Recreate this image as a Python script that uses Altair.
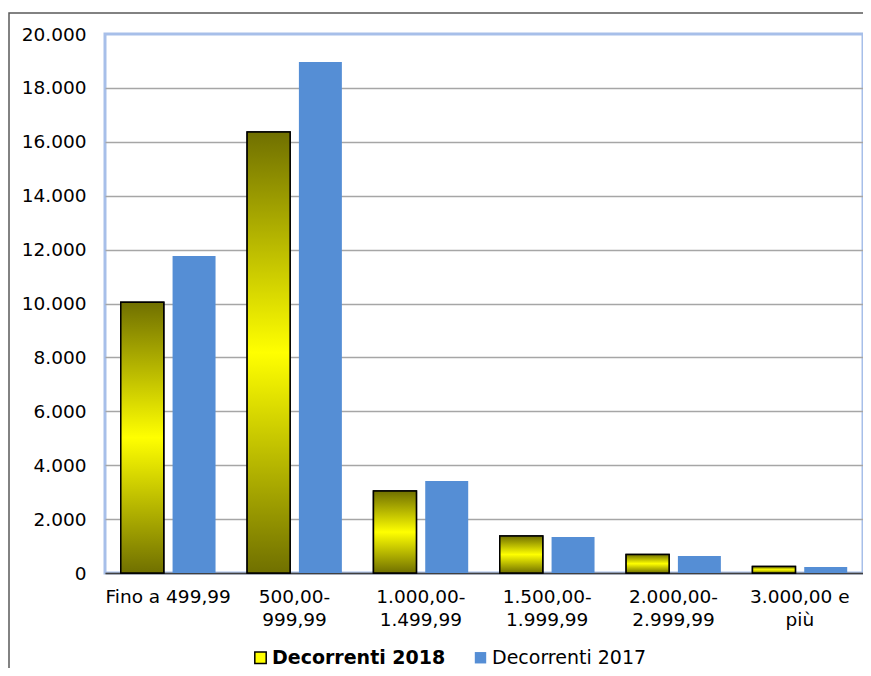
import altair as alt
import pandas as pd

categories = ["Fino a 499,99", "500,00-999,99", "1.000,00-1.499,99",
              "1.500,00-1.999,99", "2.000,00-2.999,99", "3.000,00 e più"]
series = ["Decorrenti 2018", "Decorrenti 2017"]
values_2018 = [10050, 16360, 3040, 1370, 690, 240]
values_2017 = [11760, 18960, 3410, 1340, 630, 220]
y_ticks = [0, 2000, 4000, 6000, 8000, 10000, 12000, 14000, 16000, 18000, 20000]

rows = []
for c, a, b in zip(categories, values_2018, values_2017):
    rows.append({"cat": c, "series": series[0], "value": a})
    rows.append({"cat": c, "series": series[1], "value": b})
df = pd.DataFrame(rows)

FONT = "DejaVu Sans"

x_label_expr = (
    "indexof(datum.label, '-') >= 0 ? "
    "[slice(datum.label, 0, indexof(datum.label, '-') + 1), slice(datum.label, indexof(datum.label, '-') + 1)] : "
    "(indexof(datum.label, ' e ') >= 0 ? "
    "[slice(datum.label, 0, indexof(datum.label, ' e ') + 2), slice(datum.label, indexof(datum.label, ' e ') + 3)] : datum.label)"
)

x_enc = alt.X(
    "cat:N", sort=categories, title=None,
    scale=alt.Scale(paddingInner=0.25, paddingOuter=0.125),
    axis=alt.Axis(labelAngle=0, labelExpr=x_label_expr, ticks=False,
                  domainColor="#404040", domainWidth=1.5,
                  labelFont=FONT, labelFontSize=18.5, labelColor="#000000",
                  labelPadding=14, labelLineHeight=23, labelBaseline="top",
                  labelLimit=0),
)
xoff_enc = alt.XOffset("series:N", sort=series,
                       scale=alt.Scale(domain=series, paddingInner=0.17))
y_enc = alt.Y(
    "value:Q", title=None,
    scale=alt.Scale(domain=[0, 20000], nice=False),
    axis=alt.Axis(values=y_ticks, domain=False, ticks=False,
                  labelExpr="replace(format(datum.value, ','), ',', '.')",
                  labelFont=FONT, labelFontSize=18.5, labelColor="#000000",
                  labelPadding=19,
                  gridColor="#A6A6A6", gridWidth=1.5,
                  gridOpacity={"condition": {"test": "datum.value >= 20000", "value": 0}, "value": 1}),
)

leg = alt.Legend(
    title=None, orient="none", legendX=146, legendY=614, direction="horizontal",
    symbolType="square", symbolSize=130, symbolStrokeWidth=1.5,
    labelFont=FONT, labelFontSize=19, labelColor="#000000", labelOffset=2,
    columnPadding=25, labelLimit=0,
    labelFontWeight=alt.ExprRef(expr="datum.label == 'Decorrenti 2018' ? 'bold' : 'normal'"),
)

border = alt.Chart(alt.Data(values=[{"k": 1}])).mark_rect(
    fill="transparent", stroke="#595959", strokeWidth=1.5
).encode(
    x=alt.value(-96), x2=alt.value(1000), y=alt.value(-21), y2=alt.value(1000)
)

base = alt.Chart(df).mark_bar(strokeWidth=1.5).encode(
    x=x_enc, xOffset=xoff_enc, y=y_enc,
    fill=alt.Fill("series:N", scale=alt.Scale(domain=series, range=["#FFFF00", "#558ED5"]), legend=leg),
    stroke=alt.Stroke("series:N", scale=alt.Scale(domain=series, range=["#000000", "transparent"]), legend=leg),
)

grad = alt.LinearGradient(
    gradient="linear", x1=0, x2=0, y1=0, y2=1,
    stops=[alt.GradientStop(color="#707000", offset=0),
           alt.GradientStop(color="#FFFF00", offset=0.5),
           alt.GradientStop(color="#707000", offset=1)],
)

gbars = alt.Chart(df).transform_filter(
    alt.datum.series == series[0]
).mark_bar(fill=grad, stroke="#000000", strokeWidth=1.5).encode(
    x=x_enc, xOffset=xoff_enc, y=y_enc,
)

chart = alt.layer(border, base, gbars).properties(
    width=758, height=539,
    padding={"left": 97, "top": 26, "right": 0, "bottom": 95},
    autosize=alt.AutoSizeParams(type="none"),
    background="#FFFFFF",
).configure_view(stroke="#A7BFE9", strokeWidth=3)

chart.save("out.html", embed_options={"renderer": "svg", "actions": False})
